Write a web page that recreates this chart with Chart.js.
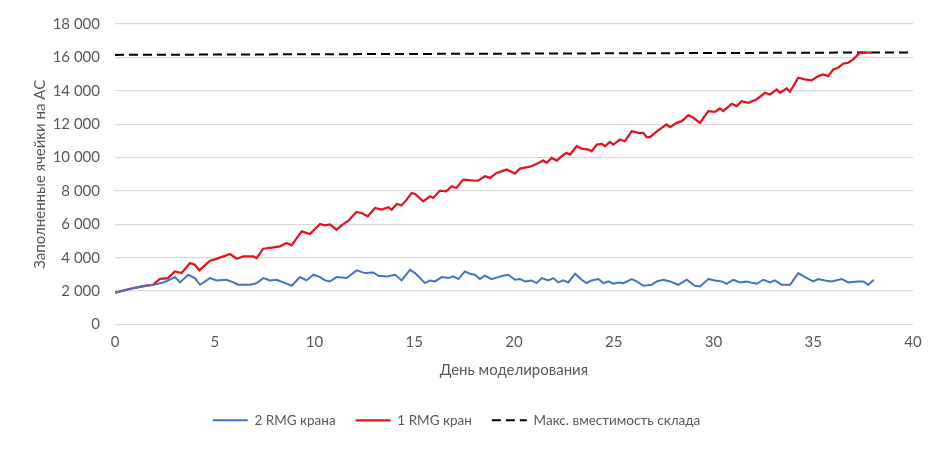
<!DOCTYPE html>
<html>
<head>
<meta charset="utf-8">
<script src="https://cdn.jsdelivr.net/npm/chart.js@4"></script>
<style>
  body { margin: 0; background: #fff; }
</style>
</head>
<body>
<canvas id="chart" width="945" height="449"></canvas>
<script>
// values
var redDays = [0, 0.5, 1.0, 1.5, 1.9, 2.25, 2.65, 3.0, 3.34, 3.76, 4.0, 4.23, 4.76, 5.0, 5.43, 5.76, 6.1, 6.43, 6.93, 7.1,
    7.43, 7.94, 8.27, 8.6, 8.85, 9.36, 9.77, 10.28, 10.5, 10.78, 11.1, 11.36, 11.7, 12.1, 12.36, 12.67, 13.03, 13.37, 13.7, 13.87,
    14.12, 14.37, 14.62, 14.87, 15.04, 15.45, 15.79, 15.95, 16.29, 16.6, 16.88, 17.1, 17.46, 17.88, 18.2, 18.55, 18.8, 19.13, 19.63, 20.05,
    20.3, 20.55, 20.88, 21.22, 21.47, 21.64, 21.89, 22.14, 22.39, 22.64, 22.81, 23.14, 23.39, 23.73, 23.89, 24.15, 24.4, 24.56, 24.81, 24.98,
    25.31, 25.56, 25.9, 26.23, 26.48, 26.65, 26.82, 27.07, 27.4, 27.65, 27.82, 28.16, 28.41, 28.74, 28.99, 29.32, 29.74, 30.07, 30.32, 30.49,
    30.91, 31.16, 31.41, 31.74, 32.16, 32.58, 32.83, 33.17, 33.33, 33.67, 33.83, 34.25, 34.58, 34.92, 35.25, 35.5, 35.75, 36.0, 36.25, 36.5,
    36.75, 37.0, 37.34, 37.93];
var redValues = [1900, 2060, 2200, 2310, 2380, 2740, 2780, 3180, 3080, 3680, 3580, 3240, 3820, 3900, 4080, 4220, 3940, 4080, 4080, 3980,
    4540, 4620, 4680, 4880, 4740, 5580, 5420, 6020, 5940, 6000, 5680, 5940, 6220, 6740, 6680, 6480, 6980, 6880, 7020, 6880,
    7220, 7140, 7480, 7880, 7820, 7380, 7680, 7580, 8020, 7980, 8280, 8180, 8680, 8640, 8620, 8880, 8780, 9080, 9280, 9040,
    9340, 9400, 9480, 9680, 9820, 9680, 9980, 9820, 10080, 10280, 10180, 10680, 10540, 10480, 10380, 10780, 10820, 10680, 10940, 10780,
    11080, 10980, 11580, 11480, 11480, 11220, 11220, 11480, 11780, 11980, 11820, 12080, 12180, 12540, 12380, 12080, 12780, 12740, 12940, 12780,
    13220, 13080, 13380, 13280, 13480, 13880, 13780, 14080, 13880, 14140, 13940, 14780, 14680, 14620, 14880, 14980, 14880, 15280, 15380, 15620,
    15680, 15880, 16280, 16280];

var blueDays = [0, 0.5, 1.0, 1.5, 1.92, 2.42, 2.67, 3.0, 3.26, 3.67, 4.0, 4.26, 4.76, 5.1, 5.6, 5.93, 6.18, 6.77, 7.1, 7.44,
    7.77, 8.1, 8.44, 8.86, 9.27, 9.6, 9.94, 10.28, 10.53, 10.78, 11.11, 11.61, 12.11, 12.53, 12.95, 13.2, 13.62, 14.04, 14.37, 14.79,
    15.04, 15.54, 15.79, 16.04, 16.38, 16.71, 16.96, 17.21, 17.54, 17.79, 18.04, 18.29, 18.54, 18.88, 19.21, 19.46, 19.71, 20.05, 20.3, 20.55,
    20.88, 21.13, 21.39, 21.72, 21.97, 22.22, 22.47, 22.72, 23.06, 23.39, 23.64, 23.89, 24.23, 24.48, 24.73, 24.98, 25.23, 25.48, 25.9, 26.15,
    26.48, 26.9, 27.15, 27.49, 27.82, 28.24, 28.66, 29.07, 29.32, 29.74, 30.07, 30.41, 30.66, 30.99, 31.33, 31.66, 32.0, 32.16, 32.5, 32.83,
    33.08, 33.42, 33.84, 34.25, 34.59, 35.0, 35.25, 35.59, 35.92, 36.43, 36.76, 37.26, 37.51, 37.76, 38.04];
var blueValues = [1900, 2060, 2200, 2310, 2380, 2520, 2640, 2840, 2520, 2980, 2780, 2380, 2780, 2640, 2680, 2520, 2380, 2380, 2480, 2780,
    2640, 2680, 2520, 2320, 2840, 2640, 2980, 2840, 2640, 2580, 2840, 2780, 3240, 3080, 3120, 2920, 2880, 2980, 2640, 3280,
    3080, 2480, 2640, 2580, 2840, 2780, 2880, 2720, 3180, 3040, 2980, 2720, 2920, 2720, 2840, 2920, 2980, 2680, 2720, 2580,
    2640, 2480, 2780, 2640, 2780, 2520, 2640, 2520, 3040, 2680, 2480, 2640, 2720, 2480, 2580, 2440, 2520, 2480, 2720, 2580,
    2320, 2380, 2580, 2680, 2580, 2380, 2680, 2320, 2280, 2720, 2640, 2580, 2440, 2680, 2520, 2580, 2480, 2440, 2680, 2520,
    2640, 2380, 2380, 3080, 2840, 2580, 2720, 2640, 2580, 2720, 2520, 2580, 2580, 2380, 2680];

var capDays = [0, 40];
var capValues = [16150, 16300];

var xTicks = [0, 5, 10, 15, 20, 25, 30, 35, 40];
var yTicks = [0, 2000, 4000, 6000, 8000, 10000, 12000, 14000, 16000, 18000];

var seriesNames = ['2 RMG крана', '1 RMG кран', 'Макс. вместимость склада'];
var xTitle = 'День моделирования';
var yTitle = 'Заполненные ячейки на АС';

function toPoints(days, values) {
    var pts = [];
    for (var i = 0; i < days.length; i++) {
        pts.push({ x: days[i], y: values[i] });
    }
    return pts;
}

function fmt(v) {
    return String(v).replace(/\B(?=(\d{3})+(?!\d))/g, ' ');
}

var textColor = '#595959';
var tickFont = { family: 'Lato', size: 15 };
var titleFont = { family: 'Lato', size: 15 };
var legendFont = { family: 'Lato', size: 13.5 };

new Chart(document.getElementById('chart'), {
    type: 'line',
    data: {
        datasets: [{
            label: seriesNames[0],
            data: toPoints(blueDays, blueValues),
            borderColor: '#4472C4',
            borderWidth: 2
        }, {
            label: seriesNames[1],
            data: toPoints(redDays, redValues),
            borderColor: '#E3121B',
            borderWidth: 2.25
        }, {
            label: seriesNames[2],
            data: toPoints(capDays, capValues),
            borderColor: '#000000',
            borderWidth: 2,
            borderDash: [9, 5]
        }]
    },
    options: {
        responsive: false,
        animation: false,
        layout: { padding: { top: 15, right: 32, bottom: 12, left: 0 } },
        elements: {
            point: { radius: 0 },
            line: { tension: 0 }
        },
        plugins: {
            legend: {
                position: 'bottom',
                labels: {
                    usePointStyle: true,
                    pointStyle: 'line',
                    pointStyleWidth: 35,
                    padding: 20,
                    color: textColor,
                    font: legendFont,
                    generateLabels: function(chart) {
                        var items = Chart.defaults.plugins.legend.labels.generateLabels(chart);
                        items.forEach(function(it) {
                            var ds = chart.data.datasets[it.datasetIndex];
                            it.lineDash = ds.borderDash || [];
                            it.lineWidth = ds.borderWidth;
                            it.strokeStyle = ds.borderColor;
                        });
                        return items;
                    }
                }
            },
            tooltip: { enabled: false }
        },
        scales: {
            x: {
                type: 'linear',
                min: 0,
                max: 40,
                afterBuildTicks: function(scale) {
                    scale.ticks = xTicks.map(function(v) { return { value: v }; });
                },
                afterFit: function(scale) { scale.height = 69; },
                grid: { display: false, drawTicks: false },
                border: { display: false },
                ticks: { color: textColor, font: tickFont, padding: 9, maxRotation: 0 },
                title: { display: true, text: xTitle, color: textColor, font: titleFont, padding: { top: 0, bottom: 14 } }
            },
            y: {
                min: 0,
                max: 18000,
                afterBuildTicks: function(scale) {
                    scale.ticks = yTicks.map(function(v) { return { value: v }; });
                },
                afterFit: function(scale) { scale.width = 115; },
                grid: { color: '#D9D9D9', lineWidth: 1.3, drawTicks: false },
                border: { display: false },
                ticks: {
                    color: textColor,
                    font: tickFont,
                    padding: 15,
                    callback: function(v) { return fmt(v); }
                },
                title: { display: true, text: yTitle, color: textColor, font: titleFont, padding: { top: 31, bottom: 0 } }
            }
        }
    }
});
</script>
</body>
</html>
